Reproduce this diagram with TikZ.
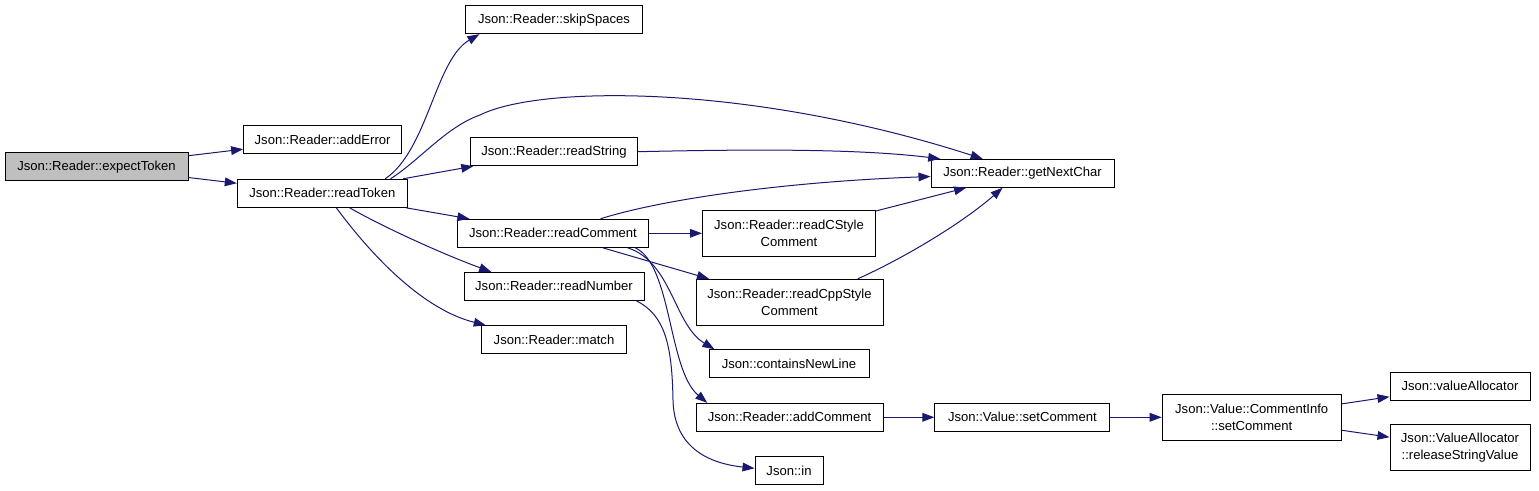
\documentclass[tikz,border=0pt]{standalone}
\usepackage{fontspec}
\setmainfont{Liberation Sans}
\definecolor{edgeblue}{HTML}{191970}
\definecolor{focusgray}{HTML}{BFBFBF}
\usetikzlibrary{arrows.meta}
\tikzset{
  fnbox/.style={draw=black, line width=0.75pt, fill=white, inner sep=1pt,
    minimum height=21pt, align=center, font=\fontsize{9.8}{13}\selectfont},
  callarrow/.style={draw=edgeblue, line width=0.75pt,
    -{Triangle[length=9pt,width=6.5pt]}},
}

\begin{document}
\begin{tikzpicture}[x=0.75pt,y=-0.75pt]
    \useasboundingbox (0,0) rectangle (1539,491);

    % Caller and first level
    \node[fnbox, fill=focusgray, minimum width=137.25pt] (expectToken) at (96.5,166.7) {Json::Reader::expectToken};
    \node[fnbox, minimum width=118.5pt]  (addError)  at (322.6,139.7) {Json::Reader::addError};
    \node[fnbox, minimum width=127.5pt]  (readToken) at (322.3,193.3) {Json::Reader::readToken};

    % Called by readToken
    \node[fnbox, minimum width=132.75pt] (skipSpaces)  at (554,19.7)  {Json::Reader::skipSpaces};
    \node[fnbox, minimum width=125.25pt] (readString)  at (554,151.7) {Json::Reader::readString};
    \node[fnbox, minimum width=143.25pt] (readComment) at (553,233.3) {Json::Reader::readComment};
    \node[fnbox, minimum width=135pt]    (readNumber)  at (554,286.3) {Json::Reader::readNumber};
    \node[fnbox, minimum width=108.75pt] (match)       at (554,339.7) {Json::Reader::match};

    % Third level
    \node[fnbox, minimum width=137.25pt] (getNextChar) at (1022.5,173.3) {Json::Reader::getNextChar};
    \node[fnbox, minimum width=129.75pt, minimum height=34.5pt] (readCStyle)   at (789,233.3)   {Json::Reader::readCStyle\\Comment};
    \node[fnbox, minimum width=140.25pt, minimum height=34.5pt] (readCppStyle) at (789.5,302.3) {Json::Reader::readCppStyle\\Comment};
    \node[fnbox, minimum width=120pt]    (containsNewLine) at (789,363.7)   {Json::containsNewLine};
    \node[fnbox, minimum width=140.25pt] (addComment)      at (789.5,417.3) {Json::Reader::addComment};
    \node[fnbox, minimum width=51pt]     (jsonIn)          at (789,470.7)   {Json::in};

    % Comment storage chain
    \node[fnbox, minimum width=131.25pt] (setComment) at (1022.4,417.3) {Json::Value::setComment};
    \node[fnbox, minimum width=134.25pt, minimum height=34.5pt] (infoSetComment) at (1251.7,417.3) {Json::Value::CommentInfo\\::setComment};
    \node[fnbox, minimum width=105pt] (valueAllocator) at (1460,386.3) {Json::valueAllocator};
    \node[fnbox, minimum width=105pt, minimum height=34.5pt] (releaseString) at (1460,447.3) {Json::ValueAllocator\\::releaseStringValue};

    % Straight calls
    \draw[callarrow] (expectToken) -- (addError);
    \draw[callarrow] (expectToken) -- (readToken);
    \draw[callarrow] (readToken) -- (readString);
    \draw[callarrow] (readToken) -- (readComment);
    \draw[callarrow] (readComment) -- (readCStyle);
    \draw[callarrow] (readCStyle) -- (getNextChar);
    \draw[callarrow] (readComment) -- (readCppStyle);
    \draw[callarrow] (addComment) -- (setComment);
    \draw[callarrow] (setComment) -- (infoSetComment);
    \draw[callarrow] (infoSetComment) -- (valueAllocator);
    \draw[callarrow] (infoSetComment) -- (releaseString);

    % Curved calls
    \draw[callarrow] (readToken.13) .. controls (428,150) and (435,60) .. (skipSpaces.-169);
    \draw[callarrow] (readToken.12) .. controls (420,160) and (446,127) .. (480,115)
      .. controls (540,85) and (750,84) .. (getNextChar.160);
    \draw[callarrow] (readString.east) .. controls (760,149) and (860,149) .. (getNextChar.170);
    \draw[callarrow] (readComment.17) .. controls (660,200) and (780,182) .. (getNextChar.182);
    \draw[callarrow] (readCppStyle.19) .. controls (900,260) and (960,225) .. (getNextChar.216);
    \draw[callarrow] (readComment.-11) .. controls (672,262) and (674,325) .. (containsNewLine.169);
    \draw[callarrow] (readComment.-10) .. controls (672,265) and (668,370) .. (addComment.170);
    \draw[callarrow] (readToken.-28) .. controls (385,228) and (445,255) .. (readNumber.167);
    \draw[callarrow] (readToken.-46) .. controls (375,260) and (425,310) .. (match.168);
    \draw[callarrow] (readNumber.-10) .. controls (665,315) and (672,345) .. (673,400)
      .. controls (674,445) and (705,463) .. (jsonIn.176);
\end{tikzpicture}
\end{document}
